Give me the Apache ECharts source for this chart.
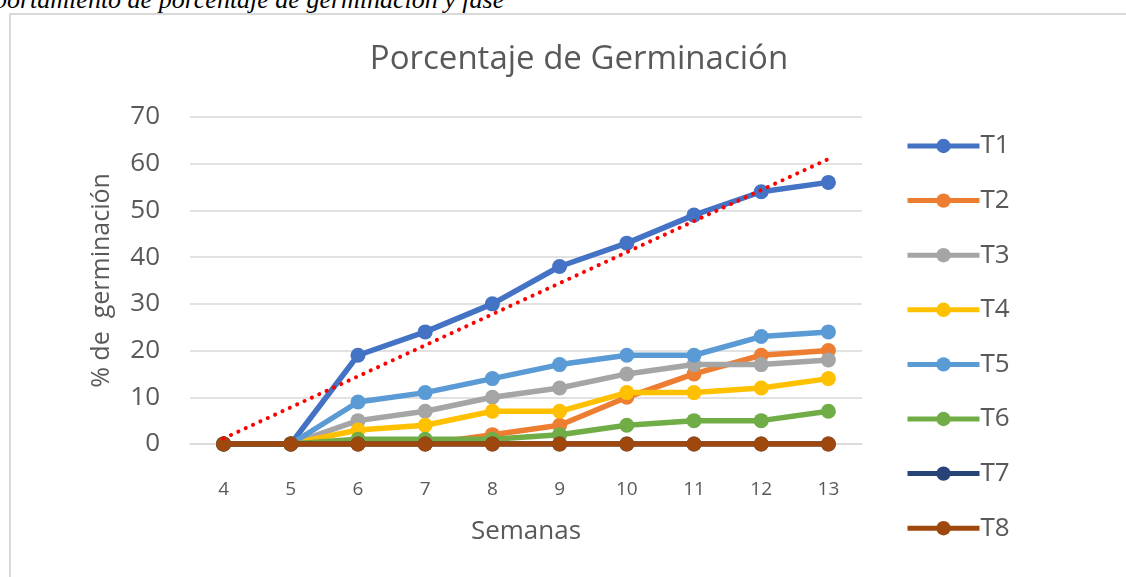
<!DOCTYPE html>
<html>
<head>
<meta charset="utf-8">
<script src="https://cdn.jsdelivr.net/npm/echarts@6/dist/echarts.min.js"></script>
<style>
  html, body { margin: 0; padding: 0; background: #fff; overflow: hidden; }
  .caption {
    position: absolute; left: -6px; top: -15px; white-space: nowrap;
    font-family: "Liberation Serif", serif; font-style: italic; font-size: 26px; color: #000;
  }
  .frame {
    position: absolute; left: 9px; top: 13px; width: 1200px; height: 700px;
    border-left: 2px solid #d9d9d9; border-top: 2px solid #d9d9d9;
  }
  #chart { position: absolute; left: 0; top: 0; width: 1126px; height: 577px; }
</style>
</head>
<body>
<div class="caption">portamiento de porcentaje de germinación y fase</div>
<div class="frame"></div>
<div id="chart"></div>
<script>
// semanas
const weeks = ['4', '5', '6', '7', '8', '9', '10', '11', '12', '13']
const t1 = [0, 0, 19, 24, 30, 38, 43, 49, 54, 56]
const t2 = [0, 0, 0, 0, 2, 4, 10, 15, 19, 20]
const t3 = [0, 0, 5, 7, 10, 12, 15, 17, 17, 18]
const t4 = [0, 0, 3, 4, 7, 7, 11, 11, 12, 14]
const t5 = [0, 0, 9, 11, 14, 17, 19, 19, 23, 24]
const t6 = [0, 0, 1, 1, 1, 2, 4, 5, 5, 7]
const t7 = [0, 0, 0, 0, 0, 0, 0, 0, 0, 0]
const t8 = [0, 0, 0, 0, 0, 0, 0, 0, 0, 0]
// línea de tendencia de T1 (inicio y fin)
const trendEnds = [1.2, 61]
const yTicks = [0, 70, 10]

const names = ['T1', 'T2', 'T3', 'T4', 'T5', 'T6', 'T7', 'T8']
const colors = ['#4472C4', '#ED7D31', '#A5A5A5', '#FFC000', '#5B9BD5', '#70AD47', '#264478', '#9E480E']
const values = [t1, t2, t3, t4, t5, t6, t7, t8]

const font = '"Open Sans", sans-serif'
const gray = '#595959'

const chart = echarts.init(document.getElementById('chart'))

const series = values.map((d, i) => ({
  name: names[i],
  type: 'line',
  data: d,
  symbol: 'circle',
  symbolSize: 15,
  color: colors[i],
  lineStyle: { width: 5.5, color: colors[i] },
  itemStyle: { color: colors[i] },
  z: 2 + i
}))

series.push({
  name: 'Lineal (T1)',
  type: 'line',
  data: [[0, trendEnds[0]], [weeks.length - 1, trendEnds[1]]],
  symbol: 'none',
  lineStyle: { width: 4, color: '#ff0000', type: [0.1, 8], cap: 'round' },
  z: 20
})

chart.setOption({
  animation: false,
  title: {
    text: 'Porcentaje de Germinación',
    left: 574,
    top: 38,
    textAlign: 'center',
    textStyle: { fontFamily: font, fontSize: 33, fontWeight: 'normal', color: gray }
  },
  legend: {
    data: names,
    orient: 'vertical',
    left: 900,
    top: 128,
    itemWidth: 72,
    itemHeight: 18,
    itemGap: 28.6,
    lineStyle: { width: 5 },
    textStyle: { fontFamily: font, fontSize: 26, color: gray, padding: [0, 0, 0, -4] }
  },
  grid: { left: 190, top: 117, width: 672, height: 327 },
  xAxis: {
    type: 'category',
    data: weeks,
    boundaryGap: true,
    name: 'Semanas',
    nameLocation: 'middle',
    nameGap: 75,
    nameTextStyle: { fontFamily: font, fontSize: 26, color: gray },
    axisLine: { lineStyle: { color: '#d9d9d9', width: 1.5 } },
    axisTick: { show: false },
    axisLabel: { fontFamily: font, fontSize: 19, color: gray, margin: 36 }
  },
  yAxis: {
    type: 'value',
    min: yTicks[0],
    max: yTicks[1],
    interval: yTicks[2],
    name: '% de  germinación',
    nameLocation: 'middle',
    nameRotate: 90,
    nameGap: 76,
    nameTextStyle: { fontFamily: font, fontSize: 25, color: gray },
    axisLine: { show: false },
    axisTick: { show: false },
    axisLabel: { fontFamily: font, fontSize: 26, color: gray, margin: 30 },
    splitLine: { lineStyle: { color: '#d9d9d9', width: 1.5 } }
  },
  series: series
})
</script>
</body>
</html>
